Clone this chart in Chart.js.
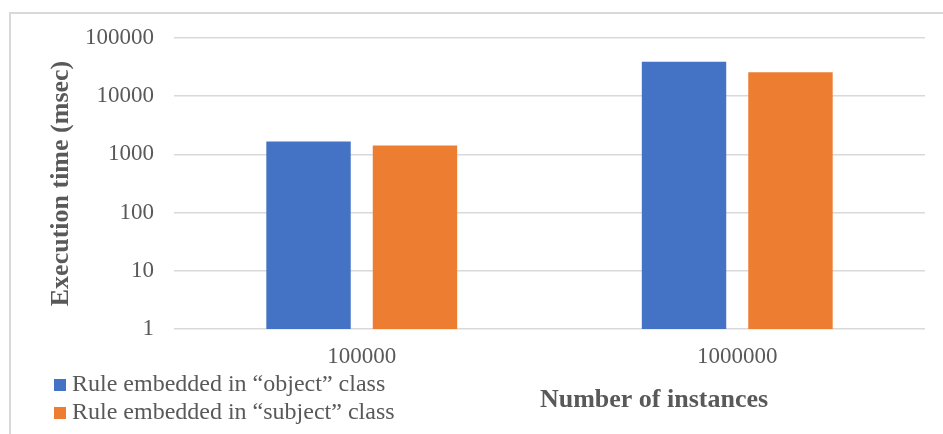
<!DOCTYPE html>
<html>
<head>
<meta charset="utf-8">
<script src="https://cdn.jsdelivr.net/npm/chart.js@4/dist/chart.umd.min.js"></script>
<style>
  html, body { margin: 0; padding: 0; background: #fff; overflow: hidden; }
  #frame {
    position: absolute; left: 9px; top: 12px; width: 1000px; height: 500px;
    border: 2px solid #d9d9d9; box-sizing: border-box;
  }
  #chart { position: absolute; left: 0; top: 0; }
</style>
</head>
<body>
<div id="frame"></div>
<canvas id="chart" width="943" height="434"></canvas>
<script>
// --- Data ---
const categories = ['100000', '1000000'];
const seriesNames = ['Rule embedded in \u201cobject\u201d class', 'Rule embedded in \u201csubject\u201d class'];
const objectTimes = [1660, 39200];
const subjectTimes = [1420, 25800];
const yTicks = [1, 10, 100, 1000, 10000, 100000];
const yTitle = 'Execution time (msec)';
const xTitle = 'Number of instances';

// --- Style ---
const serif = '"Liberation Serif", "Times New Roman", serif';
const textColor = '#595959';
const gridColor = '#d9d9d9';
const seriesColors = ['#4472C4', '#ED7D31'];

// legend sits bottom-left, axis title to the right of it (as in the Excel original)
const sideLegend = {
    id: 'sideLegend',
    afterDraw(chart) {
        const { ctx } = chart;
        ctx.save();
        ctx.textBaseline = 'middle';
        ctx.font = `24px ${serif}`;
        chart.data.datasets.forEach((ds, i) => {
            const y = 385 + i * 28;
            ctx.fillStyle = ds.backgroundColor;
            ctx.fillRect(54, y - 6, 12, 12);
            ctx.fillStyle = textColor;
            ctx.textAlign = 'left';
            ctx.fillText(ds.label, 72, y);
        });
        ctx.font = `bold 26px ${serif}`;
        ctx.textAlign = 'center';
        ctx.fillStyle = textColor;
        ctx.fillText(xTitle, 654, 400);
        ctx.restore();
    }
};

new Chart(document.getElementById('chart'), {
    type: 'bar',
    data: {
        labels: categories,
        datasets: [
            { label: seriesNames[0], data: objectTimes, backgroundColor: seriesColors[0] },
            { label: seriesNames[1], data: subjectTimes, backgroundColor: seriesColors[1] }
        ]
    },
    options: {
        responsive: false,
        animation: false,
        events: [],
        categoryPercentage: 0.567,
        barPercentage: 0.793,
        layout: { padding: { left: 0, top: 38, right: 18, bottom: 65 } },
        plugins: {
            legend: { display: false },
            tooltip: { enabled: false }
        },
        scales: {
            x: {
                grid: { display: false, drawTicks: false },
                border: { display: false },
                ticks: { color: textColor, font: { family: serif, size: 23 }, padding: 14 },
                afterFit: (scale) => { scale.height = 40; }
            },
            y: {
                type: 'logarithmic',
                min: 1,
                max: 100000,
                afterBuildTicks: (scale) => { scale.ticks = yTicks.map(v => ({ value: v })); },
                grid: { color: gridColor, lineWidth: 1.5, drawTicks: false },
                border: { display: false },
                ticks: {
                    color: textColor,
                    font: { family: serif, size: 23 },
                    padding: 20,
                    callback: (v) => String(v)
                },
                title: {
                    display: true,
                    text: yTitle,
                    color: textColor,
                    font: { family: serif, size: 26, weight: 'bold' },
                    padding: { top: 46, bottom: 0 }
                },
                afterFit: (scale) => { scale.width = 174; }
            }
        }
    },
    plugins: [sideLegend]
});
</script>
</body>
</html>
